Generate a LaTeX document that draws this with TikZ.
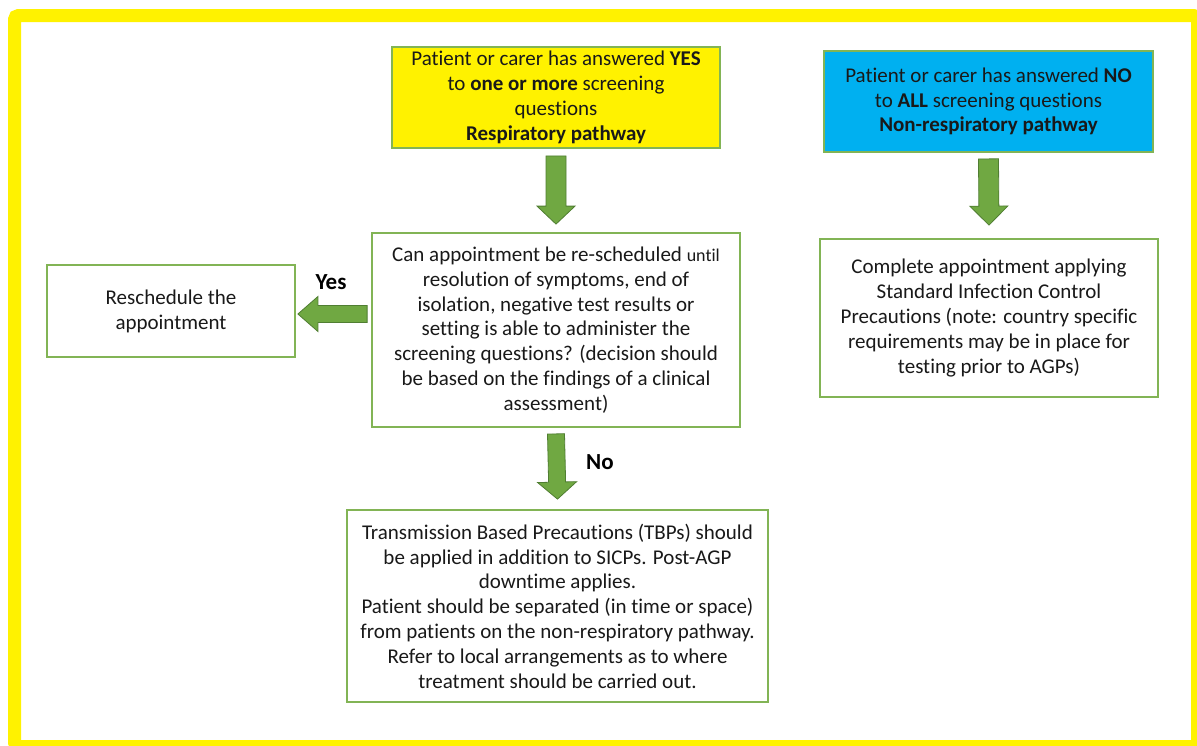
\documentclass[tikz,border=0pt]{standalone}
\usepackage{fontspec}
\setmainfont{Carlito}[Ligatures=CommonOff]
\usetikzlibrary{calc}
\definecolor{boxgreen}{RGB}{130,180,85}
\definecolor{arrowgreen}{RGB}{112,168,66}
\definecolor{arrowline}{RGB}{80,126,50}
\definecolor{skyblue}{RGB}{0,176,240}
\newcommand\blockarrow[5]{%
\coordinate (ba-h) at ($(#2)!#5!(#1)$);
\draw[garrow] ($(#1)!#3!90:(#2)$) -- ($(ba-h)!#3!90:(#2)$) -- ($(ba-h)!#4!90:(#2)$)
-- (#2) -- ($(ba-h)!#4!-90:(#2)$) -- ($(ba-h)!#3!-90:(#2)$) -- ($(#1)!#3!-90:(#2)$) -- cycle;}

\begin{document}
\begin{tikzpicture}[
x=1pt, y=-1pt,
box/.style={draw=boxgreen, line width=1.8pt, align=center, inner sep=0pt,
font=\fontsize{21}{24.8}\selectfont, text=black!90},
garrow/.style={fill=arrowgreen, draw=arrowline, line width=0.8pt, line join=miter},
lbl/.style={font=\fontsize{23}{26}\selectfont\bfseries},
]
\useasboundingbox (0,0) rectangle (1197,745);
\fill[white] (0,0) rectangle (1197,745);
\begin{scope}
\clip (0,0) rectangle (1197,745);
\draw[yellow, line width=13pt, rounded corners=4pt] (14.5,15.5) rectangle (1197.5,746.5);
\end{scope}

\node[box, fill=yellow, minimum width=328pt, minimum height=101pt] (resp) at (556,97.5)
{Patient or carer has answered \textbf{YES}\\ to \textbf{one or more} screening\\ questions\\ \textbf{Respiratory pathway}};
\node[box, fill=skyblue, minimum width=329pt, minimum height=101pt] (nonresp) at (988.5,101.5)
{Patient or carer has answered \textbf{NO}\\ to \textbf{ALL} screening questions\\ \textbf{Non-respiratory pathway}};
\node[box, minimum width=368pt, minimum height=194pt] (q) at (556,330)
{Can appointment be re-scheduled {\fontsize{18}{24.8}\selectfont until}\\ resolution of symptoms, end of\\ isolation, negative test results or\\ setting is able to administer the\\ screening questions? (decision should\\ be based on the findings of a clinical\\ assessment)};
\node[box, minimum width=248pt, minimum height=92pt] (resched) at (171,311)
{Reschedule the\\ appointment};
\node[box, minimum width=338pt, minimum height=158pt] (complete) at (989,318)
{Complete appointment applying\\ Standard Infection Control\\ Precautions (note: country specific\\ requirements may be in place for\\ testing prior to AGPs)};
\node[box, minimum width=421pt, minimum height=192pt] (tbp) at (557.5,606)
{Transmission Based Precautions (TBPs) should\\ be applied in addition to SICPs. Post-AGP\\ downtime applies.\\ Patient should be separated (in time or space)\\ from patients on the non-respiratory pathway.\\ Refer to local arrangements as to where\\ treatment should be carried out.};

\node[lbl] (yes) at (331,282) {Yes};
\node[lbl] (no) at (600,462) {No};

\coordinate (a1s) at ([yshift=-7pt]resp.south);
\coordinate (a1e) at ([yshift=8pt]q.north);
\blockarrow{a1s}{a1e}{10pt}{19pt}{18pt}
\coordinate (a2s) at ([yshift=-6pt]nonresp.south);
\coordinate (a2e) at ([yshift=13pt]complete.north);
\blockarrow{a2s}{a2e}{10pt}{19pt}{19pt}
\coordinate (aye) at ([xshift=2pt,yshift=-3pt]resched.east);
\coordinate (ayq) at ([xshift=-4pt]q.west);
\coordinate (ays) at (ayq |- aye);
\blockarrow{ays}{aye}{8.5pt}{17.5pt}{20pt}
\coordinate (ans) at ([yshift=-6pt]q.south);
\coordinate (ane) at ([yshift=10pt]tbp.north);
\blockarrow{ans}{ane}{8.5pt}{19.5pt}{17pt}
\end{tikzpicture}
\end{document}
